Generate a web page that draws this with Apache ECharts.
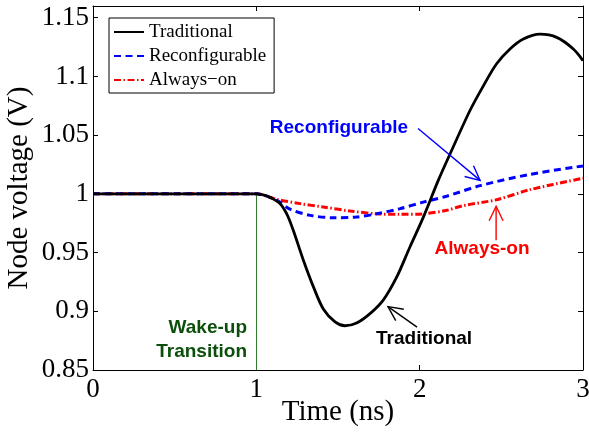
<!DOCTYPE html>
<html>
<head>
<meta charset="utf-8">
<script src="https://cdn.jsdelivr.net/npm/echarts@6/dist/echarts.min.js"></script>
<style>
  html, body { margin: 0; padding: 0; background: #fff; }
  #chart { width: 589px; height: 432px; }
</style>
</head>
<body>
<div id="chart"></div>
<script>
// Node voltage after a wake-up event, three power-gating schemes (time in ns, voltage in V)
const timeTraditional = [0, 0.5, 1.0, 1.135, 1.186, 1.226, 1.288, 1.349, 1.41, 1.482, 1.543, 1.614, 1.696, 1.777, 1.859, 1.941, 2.022, 2.114, 2.186, 2.308, 2.39, 2.47, 2.553, 2.635, 2.737, 2.839, 2.941, 3.0];
const voltTraditional = [1.0, 1.0, 1.0, 0.993, 0.983, 0.969, 0.9435, 0.921, 0.902, 0.891, 0.8877, 0.890, 0.898, 0.9095, 0.929, 0.955, 0.980, 1.0115, 1.034, 1.071, 1.092, 1.1106, 1.1234, 1.1319, 1.136, 1.1333, 1.1234, 1.1135];

const timeReconfig = [0, 0.5, 1.0, 1.125, 1.206, 1.329, 1.471, 1.614, 1.737, 1.88, 2.022, 2.165, 2.37, 2.676, 3.0];
const voltReconfig = [1.0, 1.0, 1.0, 0.9945, 0.987, 0.9817, 0.9797, 0.9803, 0.983, 0.9874, 0.993, 0.998, 1.007, 1.0166, 1.0238];

const timeAlwaysOn = [0, 0.5, 1.0, 1.125, 1.267, 1.41, 1.574, 1.737, 1.88, 2.022, 2.165, 2.267, 2.47, 2.676, 3.0];
const voltAlwaysOn = [1.0, 1.0, 1.0, 0.9953, 0.9917, 0.9888, 0.9854, 0.983, 0.9826, 0.983, 0.986, 0.990, 0.995, 1.0036, 1.0133];

const seriesNames = ['Traditional', 'Reconfigurable', 'Always\u2212on'];

const xTicks = [0, 1, 2, 3];
const yTicks = [0.85, 0.9, 0.95, 1, 1.05, 1.1, 1.15];

// Wake-up instant and callouts, in data units
const wakeTime = 1.0;
const callouts = [
  { text: 'Reconfigurable', color: '#0000ff', at: [1.506, 1.0565], align: 'center',
    arrow: [[1.99, 1.0557], [2.37, 1.0115]] },
  { text: 'Always-on', color: '#ff0000', at: [2.382, 0.9535], align: 'center',
    arrow: [[2.468, 0.9605], [2.468, 0.9894]] },
  { text: 'Traditional', color: '#000000', at: [2.027, 0.877], align: 'center',
    arrow: [[1.984, 0.8865], [1.806, 0.904]] },
  { text: 'Wake-up\nTransition', color: '#0b4f0b', at: [0.943, 0.8755], align: 'right', arrow: null }
];

const zip = (xs, ys) => xs.map((x, i) => [x, ys[i]]);

const serif = '"Liberation Serif", "DejaVu Serif", serif';
const sans = '"Liberation Sans", Arial, sans-serif';

const isTick = (v, list) => list.some(t => Math.abs(t - v) < 1e-9);
const fmt = v => String(+v.toFixed(2));

const chart = echarts.init(document.getElementById('chart'), null, { renderer: 'canvas' });

const axisCommon = {
  type: 'value',
  nameMoveOverlap: false,
  axisLine: { show: true, onZero: false, lineStyle: { color: '#000', width: 1 } },
  axisTick: { show: true, inside: true, length: 5, lineStyle: { color: '#000', width: 1 } },
  splitLine: { show: false }
};

const lineSeries = (name, data, color, dash, width, z) => ({
  name, type: 'line', data,
  smooth: 0.3, symbol: 'circle', showSymbol: false, z,
  lineStyle: { color, width, type: dash },
  itemStyle: { color }
});

const option = {
  animation: false,
  backgroundColor: '#fff',
  grid: { left: 93, right: 6, top: 6, bottom: 62, containLabel: false, outerBoundsMode: 'none' },
  legend: {
    orient: 'vertical',
    left: 109, top: 18,
    padding: [4, 8, 3, 4],
    itemGap: 4,
    itemWidth: 30,
    itemHeight: 14,
    itemStyle: { opacity: 0, borderWidth: 0 },
    borderColor: '#000',
    borderWidth: 1,
    backgroundColor: '#fff',
    textStyle: { fontFamily: serif, fontSize: 19, color: '#000', lineHeight: 20 },
    data: seriesNames
  },
  xAxis: [
    Object.assign({}, axisCommon, {
      min: 0, max: 3, interval: 1, position: 'bottom',
      name: 'Time (ns)', nameLocation: 'middle', nameGap: 28,
      nameTextStyle: { fontFamily: serif, fontSize: 29, color: '#000' },
      axisLabel: { fontFamily: serif, fontSize: 27, color: '#000', margin: 6,
        formatter: v => isTick(v, xTicks) ? fmt(v) : '' }
    }),
    Object.assign({}, axisCommon, {
      min: 0, max: 3, interval: 1, position: 'top', axisLabel: { show: false }
    })
  ],
  yAxis: [
    Object.assign({}, axisCommon, {
      min: 0.85, max: 1.16, interval: 0.05, position: 'left',
      name: 'Node voltage (V)', nameLocation: 'middle', nameGap: 59,
      nameTextStyle: { fontFamily: serif, fontSize: 29, color: '#000' },
      axisLabel: { fontFamily: serif, fontSize: 27, color: '#000', margin: 4,
        formatter: v => isTick(v, yTicks) ? fmt(v) : '' }
    }),
    Object.assign({}, axisCommon, {
      min: 0.85, max: 1.16, interval: 0.05, position: 'right', axisLabel: { show: false }
    })
  ],
  series: [
    Object.assign(lineSeries(seriesNames[0], zip(timeTraditional, voltTraditional), '#000000', 'solid', 2.8, 5), {
      markLine: {
        silent: true, symbol: ['none', 'none'], label: { show: false },
        lineStyle: { color: '#2f7a2f', width: 1, type: 'solid' },
        data: [[{ coord: [wakeTime, 0.85] }, { coord: [wakeTime, 1.0] }]]
      }
    }),
    lineSeries(seriesNames[1], zip(timeReconfig, voltReconfig), '#0000ff', [7, 4.5], 3, 4),
    lineSeries(seriesNames[2], zip(timeAlwaysOn, voltAlwaysOn), '#ff0000', [7, 2.5, 1.5, 2.5], 3, 3)
  ]
};

chart.setOption(option);

// Callout texts and open-headed arrows, placed from data coordinates
function arrowHead(p0, p1, len, spread) {
  const ang = Math.atan2(p1[1] - p0[1], p1[0] - p0[0]);
  const a1 = ang + Math.PI - spread, a2 = ang + Math.PI + spread;
  return [
    [p1[0] + len * Math.cos(a1), p1[1] + len * Math.sin(a1)],
    p1,
    [p1[0] + len * Math.cos(a2), p1[1] + len * Math.sin(a2)]
  ];
}

const graphics = [];
callouts.forEach(c => {
  const p = chart.convertToPixel({ xAxisIndex: 0, yAxisIndex: 0 }, c.at);
  graphics.push({
    type: 'text', x: p[0], y: p[1], z: 10,
    style: {
      text: c.text, fill: c.color, font: 'bold 19px ' + sans,
      align: c.align, verticalAlign: 'middle', lineHeight: 24
    }
  });
  if (c.arrow) {
    const a = chart.convertToPixel({ xAxisIndex: 0, yAxisIndex: 0 }, c.arrow[0]);
    const b = chart.convertToPixel({ xAxisIndex: 0, yAxisIndex: 0 }, c.arrow[1]);
    graphics.push({
      type: 'polyline', z: 10, shape: { points: [a, b] },
      style: { stroke: c.color, lineWidth: 1.4, fill: null }
    });
    graphics.push({
      type: 'polyline', z: 10, shape: { points: arrowHead(a, b, 16, 0.45) },
      style: { stroke: c.color, lineWidth: 1.4, fill: null }
    });
  }
});
chart.setOption({ graphic: graphics });
</script>
</body>
</html>
